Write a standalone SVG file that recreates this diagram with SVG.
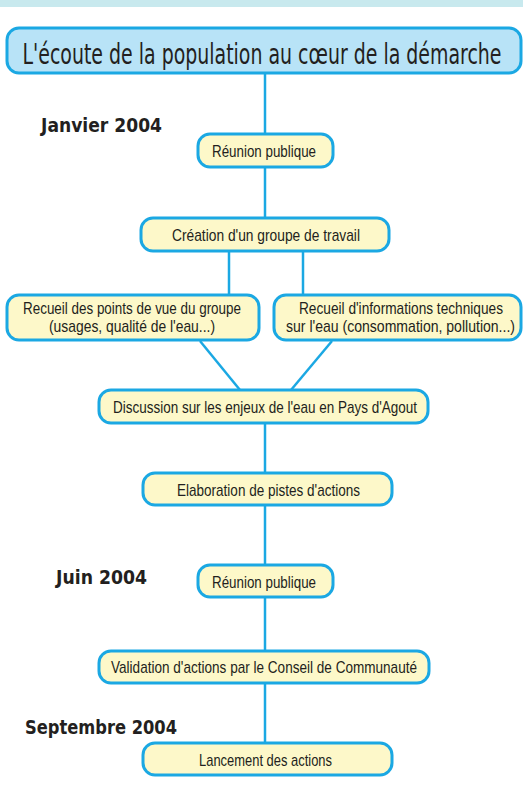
<svg xmlns="http://www.w3.org/2000/svg" width="523" height="794" viewBox="0 0 523 794">
<style>
.box{fill:#fdf8c9;stroke:#1ba8e3;stroke-width:3}
.t{font-family:"Liberation Sans","Noto Sans",sans-serif;font-size:17px;fill:#231f20;text-anchor:middle}
.d{font-family:"DejaVu Sans","Liberation Sans",sans-serif;font-weight:bold;font-size:19px;fill:#231f20}
.c line{stroke:#1ba8e3;stroke-width:2.5}
</style>
<rect x="0" y="0" width="523" height="7" fill="#c8e9ee"/>
<g class="c" id="connectors">
<line x1="265" y1="73" x2="265" y2="134"/>
<line x1="265" y1="167" x2="265" y2="218"/>
<line x1="229" y1="251" x2="229" y2="295"/>
<line x1="303" y1="251" x2="303" y2="295"/>
<line x1="200" y1="341" x2="240" y2="390"/>
<line x1="332" y1="341" x2="291" y2="390"/>
<line x1="265" y1="423" x2="265" y2="473"/>
<line x1="265" y1="505" x2="265" y2="565"/>
<line x1="265" y1="597" x2="265" y2="651"/>
<line x1="265" y1="683" x2="265" y2="743"/>
</g>
<g id="title">
<rect x="7" y="28" width="514" height="45" rx="12" fill="#b8e3f7" stroke="#1ba8e3" stroke-width="3"/>
<text x="262" y="64" font-family="'DejaVu Sans','Liberation Sans',sans-serif" font-size="29" fill="#231f20" text-anchor="middle" textLength="479" lengthAdjust="spacingAndGlyphs">L'écoute de la population au cœur de la démarche</text>
</g>
<g id="date1"><text class="d" x="41" y="132" textLength="121" lengthAdjust="spacingAndGlyphs">Janvier 2004</text></g>
<g id="date2"><text class="d" x="56" y="584" textLength="91" lengthAdjust="spacingAndGlyphs">Juin 2004</text></g>
<g id="date3"><text class="d" x="25" y="734" textLength="152" lengthAdjust="spacingAndGlyphs">Septembre 2004</text></g>
<g id="reunion1">
<rect class="box" x="198" y="134" width="135" height="33" rx="12"/>
<text class="t" x="264" y="157" textLength="104" lengthAdjust="spacingAndGlyphs">Réunion publique</text>
</g>
<g id="creation">
<rect class="box" x="141" y="218" width="248" height="33" rx="12"/>
<text class="t" x="266" y="241" textLength="188" lengthAdjust="spacingAndGlyphs">Création d'un groupe de travail</text>
</g>
<g id="recueil1">
<rect class="box" x="7" y="295" width="252" height="45" rx="12"/>
<text class="t" x="132" y="314" textLength="218" lengthAdjust="spacingAndGlyphs">Recueil des points de vue du groupe</text>
<text class="t" x="132" y="332" textLength="166" lengthAdjust="spacingAndGlyphs">(usages, qualité de l'eau...)</text>
</g>
<g id="recueil2">
<rect class="box" x="274" y="295" width="247" height="45" rx="12"/>
<text class="t" x="401" y="314" textLength="204" lengthAdjust="spacingAndGlyphs">Recueil d'informations techniques</text>
<text class="t" x="400.5" y="332" textLength="229" lengthAdjust="spacingAndGlyphs">sur l'eau (consommation, pollution...)</text>
</g>
<g id="discussion">
<rect class="box" x="99" y="390" width="329" height="33" rx="12"/>
<text class="t" x="265" y="413" textLength="304" lengthAdjust="spacingAndGlyphs">Discussion sur les enjeux de l'eau en Pays d'Agout</text>
</g>
<g id="elaboration">
<rect class="box" x="143" y="473" width="249" height="32" rx="12"/>
<text class="t" x="268.5" y="496" textLength="183" lengthAdjust="spacingAndGlyphs">Elaboration de pistes d'actions</text>
</g>
<g id="reunion2">
<rect class="box" x="198" y="565" width="135" height="32" rx="12"/>
<text class="t" x="264" y="588" textLength="104" lengthAdjust="spacingAndGlyphs">Réunion publique</text>
</g>
<g id="validation">
<rect class="box" x="99" y="651" width="330" height="32" rx="12"/>
<text class="t" x="264" y="673" textLength="306" lengthAdjust="spacingAndGlyphs">Validation d'actions par le Conseil de Communauté</text>
</g>
<g id="lancement">
<rect class="box" x="143" y="743" width="249" height="32" rx="12"/>
<text class="t" x="265.5" y="766" textLength="133" lengthAdjust="spacingAndGlyphs">Lancement des actions</text>
</g>
</svg>
